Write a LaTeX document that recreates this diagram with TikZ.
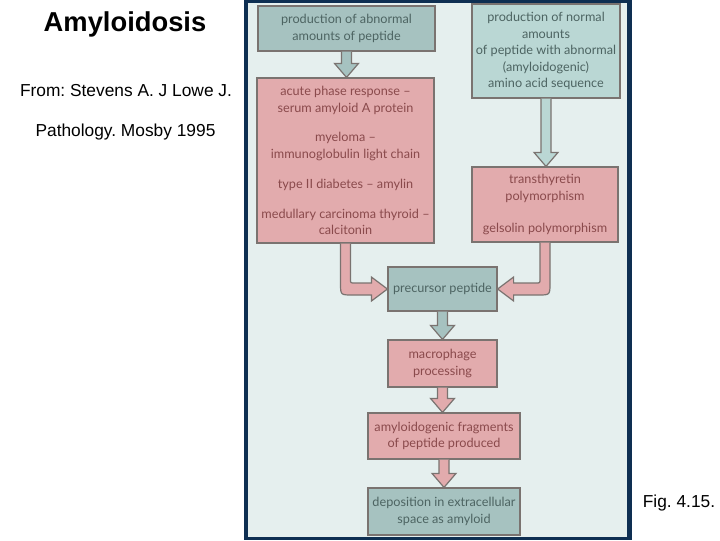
\documentclass[tikz,border=0pt]{standalone}
\usepackage{fontspec}
\setmainfont{Liberation Sans}
\newfontfamily\boxfont{Lato}
\usetikzlibrary{calc}
\frenchspacing
\definecolor{navy}{HTML}{0E2F52}
\definecolor{panel}{HTML}{E5EFEE}
\definecolor{tealfill}{HTML}{A6C2C0}
\definecolor{lteal}{HTML}{BAD7D4}
\definecolor{pinkfill}{HTML}{E2ABAD}
\definecolor{edge}{HTML}{7A7370}
\definecolor{pinktext}{HTML}{8A4A4C}
\definecolor{tealtext}{HTML}{4D6462}
\newcommand\downarrowblock[3]{%
  \coordinate (tip) at (#1.south |- #2.north);
  \draw[arrowline,fill=#3] ($(#1.south)+(-5,0)$) -- ($(tip)+(-5,-14)$) -- ($(tip)+(-12,-14)$) -- (tip)
    -- ($(tip)+(12,-14)$) -- ($(tip)+(5,-14)$) -- ($(#1.south)+(5,0)$);}
\begin{document}
\begin{tikzpicture}[x=0.75pt,y=-0.75pt,
  sz/.style 2 args={minimum width=#1*0.75pt, minimum height=#2*0.75pt},
  flowbox/.style={draw=edge, line width=0.9pt, inner sep=0pt, align=center,
    font=\boxfont\fontsize{9.5}{12.4}\selectfont},
  tealbox/.style={flowbox, fill=tealfill, text=tealtext},
  ltealbox/.style={flowbox, fill=lteal, text=tealtext},
  pinkbox/.style={flowbox, fill=pinkfill, text=pinktext},
  arrowline/.style={draw=edge, line width=0.9pt, line join=miter},
  label/.style={inner sep=0pt, text=black}]
\useasboundingbox (0,0) rectangle (720,540);
\fill[white] (0,0) rectangle (720,540);
\fill[navy] (244,0) rectangle (632,540);
\fill[panel] (248,3) rectangle (627,537);

\node[label, font=\bfseries\fontsize{20.5}{24}\selectfont] (title) at (125,24) {Amyloidosis};
\node[label, font=\fontsize{13}{15}\selectfont] (from) at (126,91) {From: Stevens A. J Lowe J.};
\node[label, font=\fontsize{13}{15}\selectfont] (path) at (125.5,132) {Pathology. Mosby 1995};
\node[label, font=\fontsize{13}{15}\selectfont] (fig) at (679,503) {Fig. 4.15.};

\node[tealbox, sz={177}{45}] (A) at (346.5,28.5) {production of abnormal\\amounts of peptide};
\node[ltealbox, sz={148}{94}] (B) at (546,51) {production of normal\\amounts\\of peptide with abnormal\\(amyloidogenic)\\amino acid sequence};
\node[pinkbox, sz={177}{165}] (C) at (345.5,160.5) {acute phase response –\\serum amyloid A protein\\[10pt]myeloma –\\immunoglobulin light chain\\[10pt]type II diabetes – amylin\\[10pt]medullary carcinoma thyroid –\\calcitonin};
\node[pinkbox, sz={146}{75}] (D) at (545,204.5) {transthyretin\\polymorphism\\[12pt]gelsolin polymorphism};
\node[tealbox, sz={109}{44}] (E) at (442.5,289) {precursor peptide};
\node[pinkbox, sz={109}{47}] (F) at (442.5,363.5) {macrophage\\processing};
\node[pinkbox, sz={152}{46}] (G) at (444,436) {amyloidogenic fragments\\of peptide produced};
\node[tealbox, sz={152}{47}] (H) at (444,511.5) {deposition in extracellular\\space as amyloid};

\downarrowblock{A}{C}{tealfill}
\downarrowblock{B}{D}{lteal}
\downarrowblock{E}{F}{tealfill}
\downarrowblock{F}{G}{pinkfill}
\downarrowblock{G}{H}{pinkfill}

\coordinate (c1) at (C.south |- E.west);
\draw[arrowline, fill=pinkfill] ($(C.south)+(-5,0)$) -- ($(c1)+(-5,-6)$)
  .. controls ($(c1)+(-5,6)$) .. ($(c1)+(7,6)$) -- ($(E.west)+(-16,6)$)
  -- ($(E.west)+(-16,12)$) -- (E.west) -- ($(E.west)+(-16,-12)$) -- ($(E.west)+(-16,-6)$)
  -- ($(c1)+(9,-6)$) .. controls ($(c1)+(5,-6)$) .. ($(c1)+(5,-10)$) -- ($(C.south)+(5,0)$);

\coordinate (c2) at (D.south |- E.east);
\draw[arrowline, fill=pinkfill] ($(D.south)+(5,0)$) -- ($(c2)+(5,-6)$)
  .. controls ($(c2)+(5,6)$) .. ($(c2)+(-7,6)$) -- ($(E.east)+(16,6)$)
  -- ($(E.east)+(16,12)$) -- (E.east) -- ($(E.east)+(16,-12)$) -- ($(E.east)+(16,-6)$)
  -- ($(c2)+(-9,-6)$) .. controls ($(c2)+(-5,-6)$) .. ($(c2)+(-5,-10)$) -- ($(D.south)+(-5,0)$);
\end{tikzpicture}
\end{document}
